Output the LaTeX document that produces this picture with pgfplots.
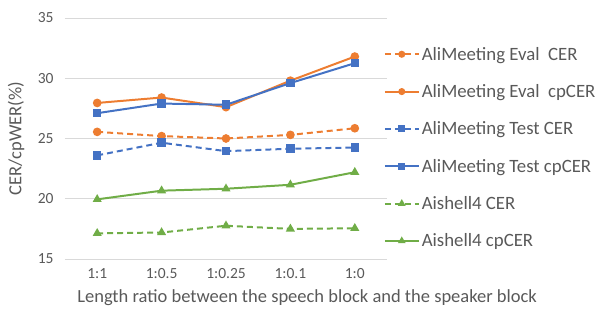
\documentclass[border=0pt]{standalone}
\usepackage{pgfplots}
\pgfplotsset{compat=1.18}
\usepackage{fontspec}
\setmainfont{Carlito}
\definecolor{cOr}{HTML}{ED7D31}
\definecolor{cBl}{HTML}{4472C4}
\definecolor{cGr}{HTML}{70AD47}
\definecolor{cTx}{HTML}{595959}
\definecolor{cGd}{HTML}{D9D9D9}
\begin{document}
\begin{tikzpicture}
\begin{axis}[
  at={(0,0)}, anchor=south west,
  scale only axis, width=322bp, height=241bp,
  xmin=-0.5, xmax=4.5, ymin=15, ymax=35,
  xtick={0,1,2,3,4},
  xticklabels={1:1,1:0.5,1:0.25,1:0.1,1:0},
  ytick={15,20,25,30,35},
  axis line style={draw=none},
  tick style={draw=none},
  ymajorgrids, grid style={cGd, line width=0.8pt},
  /pgf/number format/assume math mode=true,
  tick label style={font=\fontsize{15.5bp}{17bp}\selectfont, text=cTx},
  xticklabel style={anchor=center, yshift=-15bp},
  yticklabel style={anchor=east, xshift=-8bp},
  xlabel={Length ratio between the speech block and the speaker block},
  ylabel={CER/cpWER(\%)},
  label style={font=\fontsize{18.5bp}{20bp}\selectfont, text=cTx},
  x label style={at={(axis description cs:0.752,-0.162)}, anchor=center},
  y label style={at={(axis description cs:-0.152,0.5)}, anchor=center},
  every axis plot/.append style={line width=2pt, mark size=3.3pt},
  legend style={draw=none, fill=none, at={(axis description cs:0.99,0.888)}, anchor=north west,
    font=\fontsize{18.8bp}{20bp}\selectfont, text=cTx, row sep=18.8bp,
    inner sep=0pt, outer sep=0pt},
  legend cell align=left,
  legend image code/.code={\draw[mark repeat=2,mark phase=2, mark size=2.5pt] plot coordinates {(0bp,0bp) (17bp,0bp) (34bp,0bp)};},
]
\addplot[cOr, dash pattern=on 6bp off 4bp, mark=*, mark options={solid}] coordinates {(0,25.55) (1,25.2) (2,25.0) (3,25.3) (4,25.85)};
\addlegendentry{AliMeeting Eval\ \ CER}
\addplot[cOr, mark=*] coordinates {(0,27.95) (1,28.4) (2,27.6) (3,29.8) (4,31.8)};
\addlegendentry{AliMeeting Eval\ \ cpCER}
\addplot[cBl, dash pattern=on 6bp off 4bp, mark=square*, mark options={solid}] coordinates {(0,23.6) (1,24.65) (2,23.95) (3,24.15) (4,24.25)};
\addlegendentry{AliMeeting Test CER}
\addplot[cBl, mark=square*] coordinates {(0,27.1) (1,27.9) (2,27.8) (3,29.6) (4,31.25)};
\addlegendentry{AliMeeting Test cpCER}
\addplot[cGr, dash pattern=on 6bp off 4bp, mark=triangle*, mark options={solid}] coordinates {(0,17.13) (1,17.2) (2,17.76) (3,17.5) (4,17.55)};
\addlegendentry{Aishell4 CER}
\addplot[cGr, mark=triangle*] coordinates {(0,19.95) (1,20.67) (2,20.83) (3,21.16) (4,22.2)};
\addlegendentry{Aishell4 cpCER}
\end{axis}
\pgfresetboundingbox
\path (-65bp,-50bp) rectangle (533bp,259bp);
\end{tikzpicture}
\end{document}
